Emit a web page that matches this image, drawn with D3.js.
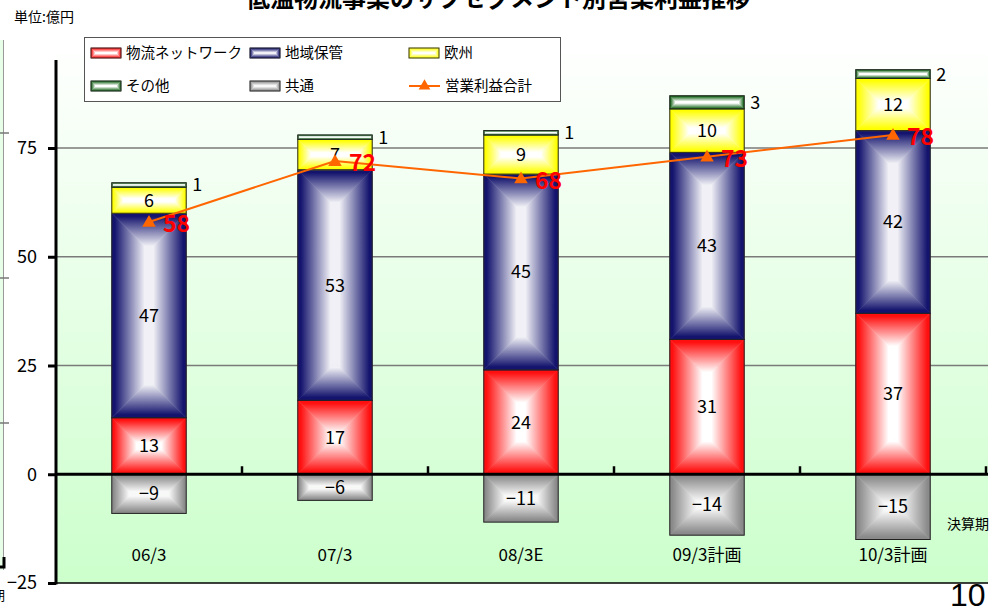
<!DOCTYPE html>
<html>
<head>
<meta charset="utf-8">
<script src="https://cdn.jsdelivr.net/npm/d3@7"></script>
<style>
  body { margin: 0; background: #fff; }
  svg { display: block; font-family: "Noto Sans CJK JP", "Noto Sans", sans-serif; }
</style>
</head>
<body>
<div class="chart"></div>
<script>
// data (億円)
const categories = ['06/3', '07/3', '08/3E', '09/3計画', '10/3計画'];
const network = [13, 17, 24, 31, 37];   // 物流ネットワーク
const regional = [47, 53, 45, 43, 42];  // 地域保管
const europe = [6, 7, 9, 10, 12];       // 欧州
const other = [1, 1, 1, 3, 2];          // その他
const common = [-9, -6, -11, -14, -15]; // 共通
const total = [58, 72, 68, 73, 78];     // 営業利益合計
const y_ticks = [-25, 0, 25, 50, 75];

const series = [
    {key: 'network', name: '物流ネットワーク', edge: '#ff1010', center: '#ffffff'},
    {key: 'regional', name: '地域保管', edge: '#14146e', center: '#f0f0f6'},
    {key: 'europe', name: '欧州', edge: '#ffff00', center: '#ffffff'},
    {key: 'other', name: 'その他', edge: '#17681a', center: '#ffffff'},
    {key: 'common', name: '共通', edge: '#8a8a8a', center: '#f8f8f8'}
];

const table = categories.map((c, i) => ({
    cat: c,
    network: network[i],
    regional: regional[i],
    europe: europe[i],
    other: other[i],
    common: common[i],
    total: total[i]
}));

const svg_width = 994, svg_height = 612;
const plot = {left: 56, right: 988, bottom: 583};

const svg = d3.select('.chart').append('svg')
    .attr('width', svg_width)
    .attr('height', svg_height);
const defs = svg.append('defs');

// scales
const x_scale = d3.scaleBand().domain(categories).range([56, 986])
    .paddingInner(0.6).paddingOuter(0.3);
const step = x_scale.step();
const y_scale = d3.scaleLinear().domain([-25, 95]).range([583, 583 - 120 * 4.35]);

// gradients: "from center" box effect, 4 trapezoids with 45deg seams
const dirs = {
    t: {x1: 0, y1: 0, x2: 0, y2: 1},
    b: {x1: 0, y1: 1, x2: 0, y2: 0},
    l: {x1: 0, y1: 0, x2: 1, y2: 0},
    r: {x1: 1, y1: 0, x2: 0, y2: 0}
};
series.forEach(s => {
    Object.entries(dirs).forEach(([k, d]) => {
        const g = defs.append('linearGradient')
            .attr('id', `g-${s.key}-${k}`)
            .attr('x1', d.x1).attr('y1', d.y1).attr('x2', d.x2).attr('y2', d.y2);
        g.append('stop').attr('offset', 0).attr('stop-color', s.edge);
        g.append('stop').attr('offset', 0.08).attr('stop-color', s.edge);
        g.append('stop').attr('offset', 0.88).attr('stop-color', s.center);
        g.append('stop').attr('offset', 1).attr('stop-color', s.center);
    });
});
const bg = defs.append('linearGradient').attr('id', 'plot-bg')
    .attr('x1', 0).attr('y1', 0).attr('x2', 0).attr('y2', 1);
bg.append('stop').attr('offset', 0).attr('stop-color', '#ffffff');
bg.append('stop').attr('offset', 0.88).attr('stop-color', '#d2ffd2');
bg.append('stop').attr('offset', 1).attr('stop-color', '#ccffcc');

function box_fill(g, key, x0, y0, x1, y1, stroke) {
    const m = Math.min(x1 - x0, y1 - y0) / 2;
    const parts = [
        ['t', [[x0, y0], [x1, y0], [x1 - m, y0 + m], [x0 + m, y0 + m]]],
        ['b', [[x0, y1], [x1, y1], [x1 - m, y1 - m], [x0 + m, y1 - m]]],
        ['l', [[x0, y0], [x0 + m, y0 + m], [x0 + m, y1 - m], [x0, y1]]],
        ['r', [[x1, y0], [x1 - m, y0 + m], [x1 - m, y1 - m], [x1, y1]]]
    ];
    parts.forEach(([k, pts]) => {
        g.append('polygon')
            .attr('points', pts.map(p => p.join(',')).join(' '))
            .attr('fill', `url(#g-${key}-${k})`)
            .attr('stroke', `url(#g-${key}-${k})`)
            .attr('stroke-width', 0.6);
    });
    g.append('rect')
        .attr('x', x0).attr('y', y0)
        .attr('width', x1 - x0).attr('height', y1 - y0)
        .attr('fill', 'none')
        .attr('stroke', stroke || '#222')
        .attr('stroke-width', 1);
}

// ghost of neighbouring slide at left edge
svg.append('rect').attr('x', 0).attr('y', 40).attr('width', 3).attr('height', 530).attr('fill', '#e6ffe6');
svg.append('line').attr('x1', 3.5).attr('x2', 3.5).attr('y1', 40).attr('y2', 570).attr('stroke', '#999');
[133, 278, 423].forEach(v => svg.append('line').attr('x1', 0).attr('x2', 9).attr('y1', v).attr('y2', v)
    .attr('stroke', '#777').attr('stroke-width', 1.5));
svg.append('path').attr('d', 'M0,567 H4 V557').attr('fill', 'none').attr('stroke', '#000').attr('stroke-width', 3);
svg.append('text').attr('x', -8).attr('y', 600).attr('font-size', 13).text('期');

// plot background
svg.append('rect')
    .attr('x', plot.left).attr('y', 40)
    .attr('width', plot.right - plot.left).attr('height', plot.bottom - 40)
    .attr('fill', 'url(#plot-bg)');

// gridlines
svg.append('g')
    .selectAll('line')
    .data(y_ticks.filter(d => d > 0))
    .join('line')
    .attr('x1', plot.left).attr('x2', plot.right)
    .attr('y1', d => y_scale(d)).attr('y2', d => y_scale(d))
    .attr('stroke', '#7a7a7a').attr('stroke-width', 1.5);

// stacked bars
const stacked = d3.stack()
    .keys(series.map(s => s.key))
    .offset(d3.stackOffsetDiverging)(table);

const bars = svg.append('g').attr('class', 'bars');
stacked.forEach(layer => {
    layer.forEach((d, i) => {
        const x0 = x_scale(categories[i]);
        const x1 = x0 + x_scale.bandwidth();
        const ya = y_scale(d[1]), yb = y_scale(d[0]);
        box_fill(bars, layer.key, x0, Math.min(ya, yb), x1, Math.max(ya, yb));
    });
});

// segment labels
const labels = svg.append('g').attr('font-size', 18).attr('fill', '#000');
stacked.forEach(layer => {
    layer.forEach((d, i) => {
        const v = d.data[layer.key];
        const cx = x_scale(categories[i]) + x_scale.bandwidth() / 2;
        const cy = y_scale((d[0] + d[1]) / 2);
        if (layer.key === 'other') {
            labels.append('text')
                .attr('x', x_scale(categories[i]) + x_scale.bandwidth() + 6)
                .attr('y', cy)
                .attr('dy', '0.36em')
                .text(v);
        } else {
            labels.append('text')
                .attr('x', cx)
                .attr('y', cy)
                .attr('dy', '0.36em')
                .attr('text-anchor', 'middle')
                .text(v < 0 ? '−' + Math.abs(v) : v);
        }
    });
});

// zero line with category ticks
svg.append('line')
    .attr('x1', plot.left).attr('x2', plot.right)
    .attr('y1', y_scale(0)).attr('y2', y_scale(0))
    .attr('stroke', '#000').attr('stroke-width', 3);
svg.append('g')
    .selectAll('line')
    .data(categories)
    .join('line')
    .attr('x1', d => x_scale(d) - x_scale.step() * x_scale.paddingOuter() + step)
    .attr('x2', d => x_scale(d) - x_scale.step() * x_scale.paddingOuter() + step)
    .attr('y1', y_scale(0) - 8).attr('y2', y_scale(0))
    .attr('stroke', '#000').attr('stroke-width', 2.5);

// bottom border
svg.append('line')
    .attr('x1', plot.left).attr('x2', plot.right)
    .attr('y1', plot.bottom).attr('y2', plot.bottom)
    .attr('stroke', '#000').attr('stroke-width', 1.5);

// y axis
const y_axis = d3.axisLeft(y_scale)
    .tickValues(y_ticks)
    .tickFormat(d => d < 0 ? '−' + Math.abs(d) : d)
    .tickSizeInner(8)
    .tickSizeOuter(0)
    .tickPadding(11);
const y_axis_draw = svg.append('g')
    .attr('transform', `translate(${plot.left}, 0)`)
    .call(y_axis);
y_axis_draw.select('.domain').remove();
y_axis_draw.selectAll('.tick line').attr('stroke', '#000').attr('stroke-width', 3);
y_axis_draw.selectAll('.tick text')
    .attr('font-size', 18)
    .attr('font-family', '"Noto Sans CJK JP", sans-serif')
    .attr('fill', '#000');
svg.append('line')
    .attr('x1', plot.left).attr('x2', plot.left)
    .attr('y1', 60).attr('y2', plot.bottom + 1.5)
    .attr('stroke', '#000').attr('stroke-width', 3);

// total line
const cx_of = c => x_scale(c) + x_scale.bandwidth() / 2;
const line = d3.line().x(d => cx_of(d.cat)).y(d => y_scale(d.total));
svg.append('path')
    .datum(table)
    .attr('d', line)
    .attr('fill', 'none')
    .attr('stroke', '#ff6600')
    .attr('stroke-width', 2);
svg.append('g')
    .selectAll('path')
    .data(table)
    .join('path')
    .attr('d', d3.symbol(d3.symbolTriangle).size(80))
    .attr('transform', d => `translate(${cx_of(d.cat)}, ${y_scale(d.total) + 1})`)
    .attr('fill', '#ff6600');
svg.append('g')
    .selectAll('text')
    .data(table)
    .join('text')
    .attr('x', d => cx_of(d.cat) + 14)
    .attr('y', d => y_scale(d.total) + 2)
    .attr('dy', '0.36em')
    .attr('font-size', 23)
    .attr('font-weight', 'bold')
    .attr('fill', '#ff0000')
    .text(d => d.total);

// category labels
svg.append('g')
    .selectAll('text')
    .data(categories)
    .join('text')
    .attr('x', d => cx_of(d))
    .attr('y', 555)
    .attr('dy', '0.36em')
    .attr('text-anchor', 'middle')
    .attr('font-size', 17)
    .text(d => d);

svg.append('text')
    .attr('x', 947).attr('y', 524).attr('dy', '0.36em')
    .attr('font-size', 14)
    .text('決算期');

// header
svg.append('text')
    .attr('x', 498).attr('y', 7)
    .attr('text-anchor', 'middle')
    .attr('font-size', 24)
    .attr('font-weight', 'bold')
    .text('低温物流事業のサブセグメント別営業利益推移');
svg.append('text')
    .attr('x', 14).attr('y', 17).attr('dy', '0.36em')
    .attr('font-size', 14)
    .text('単位:億円');

// legend
const legend = svg.append('g');
legend.append('rect')
    .attr('x', 84.5).attr('y', 37.5).attr('width', 476).attr('height', 64)
    .attr('fill', '#fff').attr('stroke', '#555').attr('stroke-width', 1);
const legend_items = [
    {s: series[0], x: 91, y: 53},
    {s: series[1], x: 250, y: 53},
    {s: series[2], x: 409, y: 53},
    {s: series[3], x: 91, y: 86},
    {s: series[4], x: 250, y: 86}
];
legend_items.forEach(it => {
    box_fill(legend, it.s.key, it.x, it.y - 5, it.x + 30, it.y + 5, '#333');
    legend.append('text')
        .attr('x', it.x + 35).attr('y', it.y).attr('dy', '0.36em')
        .attr('font-size', 14.5)
        .text(it.s.name);
});
legend.append('line')
    .attr('x1', 409).attr('x2', 440).attr('y1', 86).attr('y2', 86)
    .attr('stroke', '#ff6600').attr('stroke-width', 2);
legend.append('path')
    .attr('d', d3.symbol(d3.symbolTriangle).size(60))
    .attr('transform', 'translate(424.5, 86)')
    .attr('fill', '#ff6600');
legend.append('text')
    .attr('x', 445).attr('y', 86).attr('dy', '0.36em')
    .attr('font-size', 14.5)
    .text('営業利益合計');

// page number (cut off at the edge)
svg.append('text')
    .attr('x', 950).attr('y', 606)
    .attr('font-size', 32)
    .attr('font-family', '"Liberation Sans", Arial, sans-serif')
    .text('10');
</script>
</body>
</html>
